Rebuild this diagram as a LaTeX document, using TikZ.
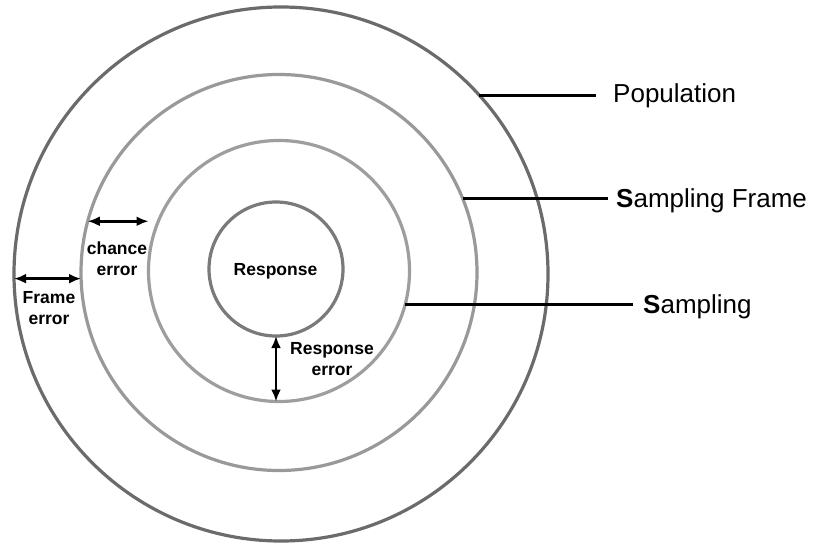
\documentclass[tikz,border=0pt]{standalone}
\usepackage{fontspec}
\setmainfont{Liberation Sans}
\usetikzlibrary{arrows.meta}

\begin{document}
\begin{tikzpicture}[x=1pt,y=-1pt,
  ring/.style={circle,draw,line width=3.2pt,inner sep=0pt,outer sep=0pt},
  leader/.style={draw=black,line width=3pt},
  measure/.style={draw=black,line width=2.6pt,{Latex[length=12pt,width=10pt]}-{Latex[length=12pt,width=10pt]}},
  biglabel/.style={anchor=base west,inner sep=0pt,font=\fontsize{26}{30}\selectfont},
  smalllabel/.style={anchor=base,inner sep=0pt,align=center,font=\fontsize{17.5}{21}\selectfont\bfseries}]

  \useasboundingbox (0,0) rectangle (813,546);
  \fill[white] (0,0) rectangle (813,546);

  % concentric rings
  \node[ring,draw=black!58,minimum size=534pt] (pop)   at (281,274)   {};
  \node[ring,draw=black!40,minimum size=396pt] (frame) at (279,272.5) {};
  \node[ring,draw=black!38,minimum size=261pt] (samp)  at (279,271)   {};
  \node[ring,draw=black!52,minimum size=134pt] (resp)  at (276,269)   {};
  \node[smalllabel] (resptext) at (275.5,275) {Response};

  % leader lines to the ring names
  \coordinate (popend)   at (596,92);
  \coordinate (frameend) at (608,198);
  \coordinate (sampend)  at (633,306);
  \draw[leader] (pop.42.6)  -- (pop.42.6 -| popend);
  \draw[leader] (frame.22)  -- (frame.22 -| frameend);
  \draw[leader] (samp.-15)  -- (samp.-15 -| sampend);
  \node[biglabel] (poplabel)   at (613,102) {Population};
  \node[biglabel] (framelabel) at (616,207) {\textbf{S}ampling Frame};
  \node[biglabel] (samplabel)  at (643,313) {\textbf{S}ampling};

  % error gaps between rings
  \draw[measure] (pop.181) -- (pop.181 -| frame.west);
  \draw[measure] (frame.165.3) -- (frame.165.3 -| samp.west);
  \draw[measure] (resp.south) -- (resp.south |- samp.south);

  % two-line labels: the base anchor sits on the second line
  \node[smalllabel] (frameerr)  at (49,324)  {Frame\\error};
  \node[smalllabel] (chanceerr) at (117,275) {chance\\error};
  \node[smalllabel] (resperr)   at (332,375) {Response\\error};
\end{tikzpicture}
\end{document}
